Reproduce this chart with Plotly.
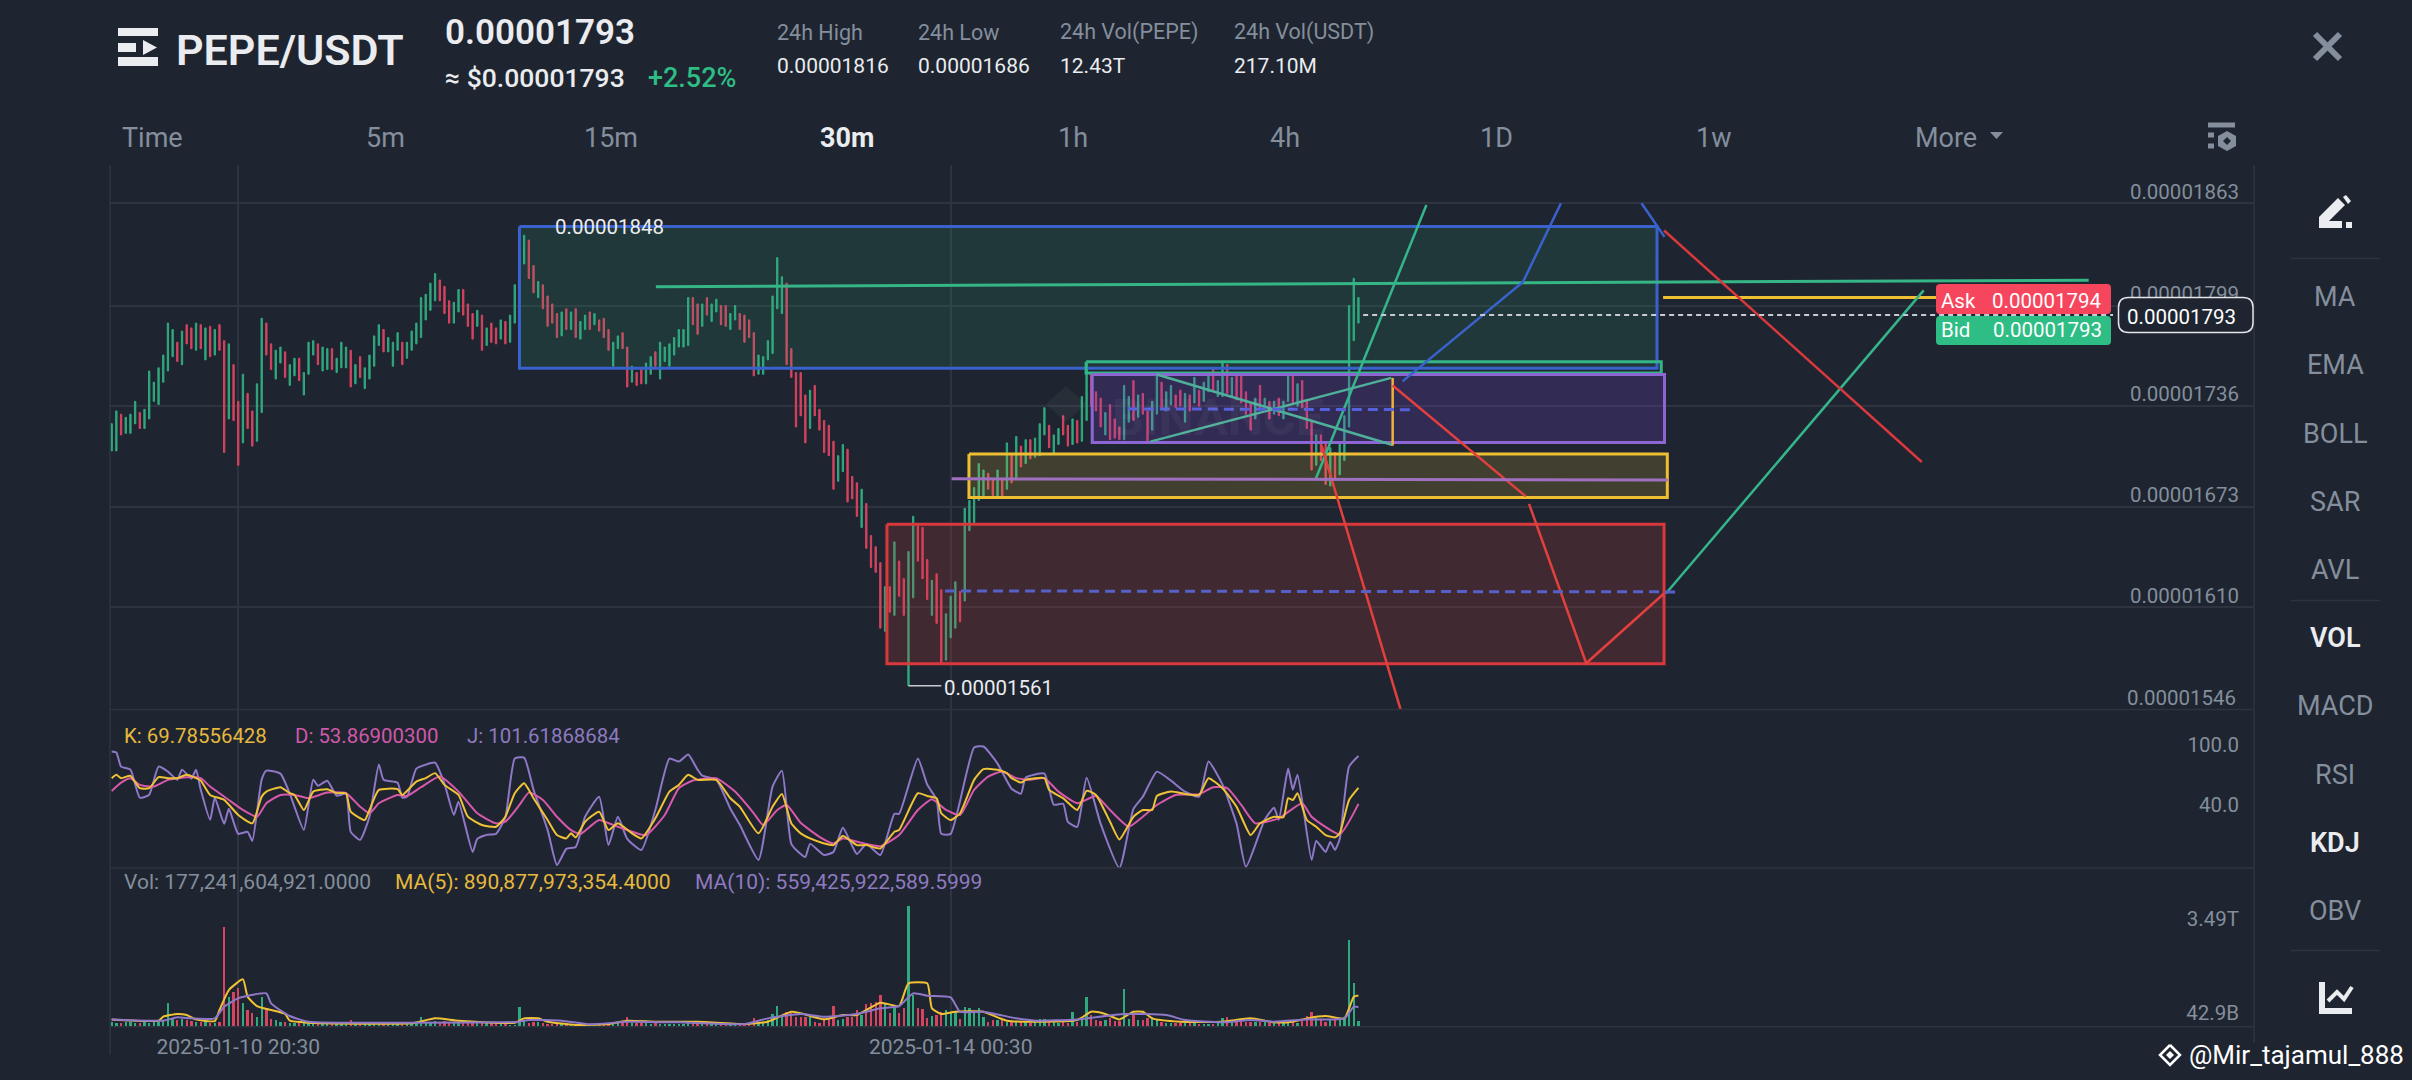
import plotly.graph_objects as go

W, H = 2412, 1080
BG = "#1e2530"
GRID = "#2d343f"
GRAY = "#848e9c"
WHITE = "#eaecef"
UP = "#31a97f"
DOWN = "#d64460"
FONT = "Roboto"

# prices are in units of 0.00000001
candle_high = [
    1725, 1733, 1731, 1729, 1731, 1739, 1732, 1734, 1758, 1751,
    1760, 1768, 1788, 1784, 1776, 1783, 1787, 1785, 1788, 1787,
    1785, 1786, 1784, 1787, 1777, 1775, 1762, 1739, 1756, 1744,
    1733, 1750, 1791, 1788, 1775, 1771, 1773, 1770, 1762, 1766,
    1766, 1757, 1776, 1777, 1775, 1773, 1772, 1772, 1766, 1776,
    1773, 1771, 1762, 1767, 1760, 1768, 1780, 1787, 1784, 1779,
    1776, 1782, 1776, 1776, 1783, 1788, 1804, 1806, 1813, 1819,
    1815, 1811, 1802, 1801, 1809, 1809, 1800, 1794, 1796, 1793,
    1785, 1788, 1785, 1790, 1789, 1793, 1812, 1830, 1843, 1840,
    1824, 1814, 1812, 1805, 1800, 1794, 1795, 1797, 1795, 1797,
    1789, 1793, 1795, 1794, 1790, 1791, 1784, 1776, 1780, 1782,
    1773, 1761, 1757, 1759, 1763, 1767, 1770, 1776, 1773, 1775,
    1779, 1784, 1784, 1804, 1804, 1800, 1800, 1804, 1800, 1803,
    1799, 1799, 1794, 1799, 1794, 1793, 1790, 1782, 1768, 1767,
    1777, 1805, 1829, 1817, 1813, 1772, 1757, 1757, 1743, 1746,
    1749, 1734, 1727, 1724, 1714, 1705, 1712, 1709, 1692, 1688,
    1684, 1675, 1655, 1648, 1638, 1623, 1623, 1651, 1639, 1628,
    1645, 1667, 1661, 1660, 1640, 1627, 1631, 1621, 1606, 1617,
    1626, 1620, 1672, 1677, 1685, 1700, 1696, 1694, 1690, 1696,
    1690, 1713, 1706, 1717, 1711, 1715, 1715, 1716, 1725, 1735,
    1724, 1718, 1722, 1730, 1724, 1728, 1727, 1742, 1763, 1757,
    1745, 1741, 1732, 1737, 1728, 1723, 1749, 1742, 1752, 1743,
    1744, 1733, 1739, 1755, 1751, 1745, 1749, 1743, 1746, 1744,
    1743, 1754, 1746, 1751, 1757, 1759, 1752, 1763, 1762, 1754,
    1755, 1755, 1745, 1738, 1741, 1749, 1741, 1739, 1739, 1741,
    1739, 1755, 1755, 1750, 1752, 1740, 1727, 1718, 1718, 1713,
    1710, 1707, 1713, 1730, 1799, 1816, 1804,
]
candle_low = [
    1708, 1708, 1718, 1719, 1719, 1725, 1722, 1722, 1728, 1739,
    1737, 1751, 1758, 1767, 1764, 1762, 1775, 1772, 1771, 1772,
    1765, 1767, 1768, 1771, 1707, 1728, 1727, 1699, 1713, 1722,
    1711, 1714, 1732, 1768, 1759, 1753, 1763, 1754, 1749, 1755,
    1752, 1743, 1756, 1768, 1762, 1758, 1759, 1759, 1757, 1760,
    1760, 1748, 1750, 1754, 1747, 1753, 1761, 1774, 1770, 1770,
    1761, 1771, 1762, 1766, 1771, 1775, 1779, 1790, 1796, 1802,
    1802, 1794, 1788, 1788, 1795, 1793, 1786, 1778, 1786, 1771,
    1774, 1776, 1775, 1778, 1775, 1776, 1788, 1807, 1825, 1816,
    1807, 1804, 1797, 1786, 1788, 1779, 1780, 1784, 1784, 1779,
    1778, 1784, 1784, 1787, 1783, 1779, 1771, 1761, 1772, 1772,
    1748, 1751, 1749, 1750, 1750, 1756, 1761, 1753, 1764, 1761,
    1768, 1773, 1773, 1774, 1787, 1781, 1786, 1793, 1789, 1795,
    1787, 1786, 1784, 1790, 1784, 1776, 1779, 1755, 1756, 1756,
    1765, 1769, 1797, 1794, 1762, 1754, 1723, 1730, 1713, 1722,
    1730, 1721, 1707, 1705, 1684, 1689, 1695, 1676, 1678, 1667,
    1660, 1647, 1635, 1632, 1597, 1595, 1607, 1605, 1617, 1605,
    1561, 1616, 1639, 1628, 1615, 1605, 1600, 1575, 1577, 1591,
    1597, 1601, 1614, 1658, 1663, 1677, 1679, 1684, 1680, 1679,
    1679, 1684, 1688, 1691, 1698, 1700, 1703, 1704, 1705, 1718,
    1710, 1706, 1712, 1718, 1711, 1712, 1713, 1714, 1727, 1736,
    1733, 1723, 1718, 1715, 1716, 1715, 1715, 1726, 1727, 1729,
    1731, 1714, 1721, 1731, 1734, 1733, 1737, 1735, 1736, 1726,
    1733, 1738, 1736, 1739, 1745, 1746, 1742, 1742, 1744, 1742,
    1740, 1738, 1731, 1721, 1728, 1734, 1734, 1728, 1731, 1730,
    1728, 1739, 1738, 1736, 1735, 1722, 1696, 1699, 1702, 1687,
    1686, 1690, 1693, 1702, 1723, 1777, 1788,
]
candle_side = (
    "GGRGGGRGGG" "GGGGRGRRGR" "GRGRRGRRGR" "RGGRRGGRGG" "RGGGRGGRGG"
    "GRGRGGGGRG" "GGRGGGGGGG" "RRRGGRRRGR" "GRRGRGGGGR" "RGRRRRGRGR"
    "GGRGRRRGGR" "RGRRGGRGGG" "GGGGRRGRGG" "RRGGRRRRGG" "GGGGRRRRRG"
    "RRRRRGGRRR" "GRRRRGRGRR" "GGRRRGRRGG" "GRGGGGGRRG" "RGRGRGRGGG"
    "RGGRRGRGGR" "RRGRRRGGRG" "RRGGRGGRRG" "RGRGGRGGRG" "RRRRGRGRGR"
    "GGRGRRRGRR" "GRGGGGG"
)

# volume in billions
volume = [
    130, 120, 110, 125, 130, 120, 110, 125, 120, 130,
    140, 170, 666, 250, 200, 230, 180, 150, 130, 130,
    140, 120, 120, 130, 2837, 857, 1000, 1095, 666, 476,
    400, 285, 857, 523, 210, 190, 143, 130, 120, 115,
    130, 110, 100, 100, 95, 100, 90, 100, 90, 95,
    80, 190, 90, 100, 80, 95, 100, 90, 85, 80,
    90, 85, 95, 75, 90, 120, 266, 120, 130, 150,
    140, 150, 130, 110, 130, 120, 130, 110, 110, 130,
    100, 110, 100, 90, 80, 60, 60, 571, 190, 120,
    130, 130, 120, 90, 90, 100, 110, 90, 80, 90,
    60, 60, 50, 50, 50, 50, 60, 70, 100, 100,
    266, 120, 110, 100, 110, 90, 100, 80, 80, 70,
    80, 70, 70, 110, 110, 100, 90, 100, 90, 90,
    70, 70, 60, 60, 70, 70, 80, 238, 120, 130,
    200, 362, 590, 285, 428, 380, 285, 285, 285, 285,
    143, 115, 238, 238, 590, 190, 210, 266, 266, 476,
    333, 647, 666, 714, 904, 685, 380, 542, 380, 523,
    3456, 904, 523, 495, 238, 305, 333, 428, 476, 380,
    428, 220, 552, 523, 428, 523, 285, 143, 190, 190,
    190, 143, 150, 140, 130, 140, 120, 200, 230, 230,
    130, 130, 120, 130, 120, 409, 140, 220, 838, 333,
    190, 170, 190, 240, 150, 170, 1066, 220, 333, 190,
    190, 238, 285, 190, 140, 120, 110, 110, 110, 110,
    100, 100, 90, 90, 80, 80, 100, 238, 285, 150,
    130, 130, 130, 130, 130, 130, 140, 120, 100, 110,
    100, 120, 130, 110, 150, 305, 428, 240, 190, 130,
    190, 190, 190, 285, 2475, 1257, 177,
]

ma5_idx = [0, 10, 11, 14, 16, 18, 22, 23, 25, 28, 29, 31, 34, 37, 38, 42, 64, 69, 74, 86, 88, 91, 93, 99, 106, 110,
           116, 125, 135, 140, 145, 147, 152, 156, 159, 164, 168, 170, 174, 175, 177, 180, 186, 191, 206, 209, 212,
           215, 218, 220, 222, 228, 237, 243, 248, 252, 255, 259, 263, 265, 266]
ma5_vals = [209, 171, 286, 362, 333, 209, 162, 476, 1047, 1352, 857, 590, 476, 362, 171, 114, 95, 238, 171, 114, 238,
            238, 143, 48, 76, 171, 143, 143, 76, 143, 428, 381, 209, 333, 333, 685, 590, 1238, 1238, 524, 362, 428,
            428, 171, 190, 428, 362, 209, 428, 428, 238, 143, 143, 238, 124, 143, 238, 305, 238, 857, 891]
ma10_idx = [0, 11, 14, 17, 22, 24, 27, 33, 34, 38, 42, 64, 87, 89, 96, 102, 110, 121, 135, 140, 147, 152, 159, 164,
            168, 171, 174, 179, 181, 186, 193, 197, 206, 216, 225, 229, 237, 243, 248, 255, 263, 265, 266]
ma10_vals = [209, 171, 267, 238, 238, 571, 809, 952, 666, 305, 143, 114, 143, 190, 171, 67, 143, 124, 76, 238, 362,
             286, 362, 524, 590, 952, 885, 838, 428, 428, 238, 171, 209, 362, 333, 190, 124, 190, 143, 209, 238,
             571, 559]

j_idx = [0, 1, 2, 4, 6, 8, 10, 12, 14, 15, 17, 18, 19, 21, 22, 24, 25, 27, 29, 30, 32, 33, 36, 38, 39, 41, 43, 44,
         46, 48, 50, 51, 53, 55, 57, 58, 61, 62, 63, 65, 67, 69, 71, 73, 74, 77, 78, 80, 82, 84, 86, 88, 90, 93, 95,
         97, 99, 101, 104, 106, 108, 110, 113, 116, 119, 121, 123, 125, 126, 129, 132, 134, 138, 141, 143, 145, 147,
         148, 149, 152, 154, 156, 159, 161, 164, 167, 168, 172, 174, 176, 177, 179, 184, 186, 189, 192, 194, 195,
         199, 201, 203, 204, 206, 208, 211, 215, 218, 220, 223, 226, 229, 232, 234, 237, 240, 242, 246, 248, 249,
         251, 252, 253, 256, 257, 259, 260, 261, 262, 264, 266]
j_vals = [106, 105, 91, 88, 60, 63, 91, 86, 78, 88, 79, 88, 68, 38, 60, 34, 49, 24, 26, 17, 78, 87, 84, 64, 51, 28,
          78, 72, 77, 62, 64, 26, 18, 41, 93, 78, 75, 60, 61, 89, 93, 95, 74, 43, 56, 6, 19, 23, 24, 41, 99, 100, 68,
          28, -7, 9, 11, 41, 61, 13, 41, 19, 8, 48, 99, 96, 103, 88, 82, 78, 49, 33, -2, 71, 87, 14, 4, 1, 14, 3, 6,
          30, 4, 14, 3, 44, 44, 99, 73, 58, 24, 24, 110, 111, 94, 69, 64, 80, 84, 53, 54, 36, 31, 80, 34, -10, 49, 61,
          86, 77, 66, 61, 96, 73, 34, -9, 38, 50, 38, 89, 68, 83, -2, 17, 6, 16, 8, 19, 91, 101.6]

k_idx = [0, 1, 2, 4, 6, 8, 10, 12, 14, 16, 18, 19, 21, 24, 27, 30, 32, 33, 36, 38, 39, 41, 43, 46, 48, 50, 51, 54,
         55, 57, 61, 62, 65, 67, 69, 71, 74, 76, 79, 82, 84, 86, 88, 90, 93, 95, 97, 98, 99, 101, 104, 106, 108, 111,
         113, 116, 119, 121, 123, 125, 129, 132, 134, 138, 141, 143, 145, 147, 149, 152, 154, 156, 159, 161, 164,
         167, 168, 172, 174, 176, 177, 179, 181, 184, 186, 189, 191, 192, 194, 195, 199, 200, 203, 206, 208, 210,
         213, 215, 218, 220, 222, 223, 226, 229, 232, 234, 237, 240, 243, 245, 248, 250, 251, 252, 253, 255, 257,
         259, 261, 262, 264, 266]
k_vals = [79.5, 82.8, 79.5, 81.8, 69.5, 69.5, 80.5, 79.5, 79.5, 82.8, 79.5, 77.1, 62.8, 57.8, 42.8, 34.5, 61.1, 66.1,
          70.5, 64.5, 62.8, 47.8, 66.1, 68.5, 64.5, 64.5, 46.1, 37.8, 47.8, 67.8, 68.5, 62.8, 76.1, 79.5, 84.5, 72.8,
          62.8, 41.1, 32.8, 31.1, 41.1, 64.5, 74.5, 59.5, 37.8, 22.8, 19.5, 24.5, 20.5, 36.1, 46.1, 27.8, 34.5, 24.5,
          19.5, 39.5, 66.1, 72.8, 82.8, 77.8, 77.8, 59.5, 51.1, 24.5, 51.1, 63.8, 34.5, 24.5, 19.5, 14.5, 12.8, 21.8,
          12.8, 12.8, 9.5, 26.1, 27.8, 64.5, 61.8, 59.5, 44.5, 37.8, 44.5, 77.8, 88.5, 87.8, 84.5, 79.5, 75.1, 77.8,
          79.5, 67.8, 59.5, 47.8, 66.8, 62.8, 36.1, 18.5, 41.1, 47.8, 47.8, 61.8, 66.1, 63.8, 62.8, 79.5, 69.5, 51.1,
          22.8, 34.5, 41.1, 40.5, 59.5, 57.8, 64.5, 37.8, 31.1, 22.8, 20.5, 24.5, 57.8, 69.8]

d_idx = [0, 2, 4, 6, 9, 12, 16, 19, 21, 25, 28, 31, 33, 36, 39, 42, 46, 50, 53, 55, 57, 61, 63, 66, 70, 74, 78, 82,
         84, 87, 89, 92, 95, 98, 100, 102, 104, 107, 110, 114, 118, 121, 124, 129, 133, 137, 139, 142, 144, 147, 151,
         154, 156, 160, 164, 168, 172, 175, 178, 181, 184, 187, 190, 193, 196, 199, 202, 206, 210, 213, 217, 220,
         223, 227, 232, 235, 238, 241, 244, 249, 254, 256, 262, 266]
d_vals = [66.8, 75.1, 79.5, 72.8, 71.1, 77.8, 80.5, 79.5, 71.1, 57.8, 47.8, 41.1, 54.5, 62.8, 62.8, 59.5, 65.1, 64.5,
          51.1, 44.5, 54.5, 62.8, 61.8, 70.5, 81.1, 66.1, 44.5, 34.5, 36.1, 52.8, 65.1, 57.8, 41.1, 27.8, 23.8, 31.1,
          37.8, 32.8, 27.8, 22.8, 42.8, 69.5, 77.1, 79.5, 66.1, 44.5, 32.8, 47.8, 52.8, 35.1, 21.1, 14.5, 19.5, 15.1,
          11.8, 22.8, 47.8, 58.5, 47.8, 42.8, 67.8, 81.1, 86.1, 79.5, 77.8, 79.5, 66.1, 54.5, 61.8, 47.8, 31.1, 41.1,
          52.8, 62.8, 63.5, 70.5, 69.5, 52.8, 34.5, 39.5, 54.5, 41.1, 23.8, 53.87]

price_ticks = [1863, 1799, 1736, 1673, 1610]
date_tick_idx = [27, 179]
date_tick_text = ["2025-01-10 20:30", "2025-01-14 00:30"]
kdj_ticks = [100, 40]
kdj_tick_text = ["100.0", "40.0"]
vol_ticks = [2734, 42.9]
vol_tick_text = ["3.49T", "42.9B"]

# drawn zones: first candle index, last candle index, top price, bottom price
zone_x0 = [87, 207.9, 209.2, 182.9, 165.4]
zone_x1 = [329.7, 330.6, 331.3, 331.9, 331.2]
zone_top = [1848.5, 1763.8, 1755.8, 1706, 1662]
zone_bottom = [1759.7, 1756.8, 1713.3, 1678.8, 1574.7]
zone_line = ["#3a62cc", "#34b588", "#8d66d4", "#eebf32", "#d9383c"]
zone_fill = ["rgba(46,189,133,0.13)", "rgba(0,0,0,0)", "rgba(130,70,225,0.20)", "rgba(225,190,50,0.18)",
             "rgba(225,60,60,0.18)"]

# drawn lines: candle indexes and prices of the anchors
drawings = [
    ([116.1, 421.8], [1810.8, 1814.9], "#36b587", 3, "solid"),
    ([331, 391], [1804, 1804], "#eebf32", 3, "solid"),
    ([331.6, 386.6], [1618.7, 1808.5], "#35b58a", 2.5, "solid"),
    ([331.2, 386.2], [1846, 1701], "#d9383c", 2.5, "solid"),
    ([275.4, 301.1, 309.2], [1751.5, 1813.8, 1863], "#3a62cc", 2.5, "solid"),
    ([326.4, 331.3], [1863, 1842], "#3a62cc", 2.5, "solid"),
    ([256.9, 280.5], [1690.5, 1862], "#35b58a", 2.5, "solid"),
    ([223, 273.3], [1755.8, 1711.7], "#4fb09a", 2.5, "solid"),
    ([221.6, 273], [1713.8, 1753.7], "#4fb09a", 2.5, "solid"),
    ([273.3, 273.3], [1753.7, 1711.3], "#f0b13c", 2.5, "solid"),
    ([273.3, 301.7], [1748.9, 1679.5], "#e2403f", 2.5, "solid"),
    ([302.4, 314.6, 331.2], [1674.8, 1575, 1618.7], "#e2403f", 2.5, "solid"),
    ([258.1, 275], [1711.7, 1546], "#e2403f", 2.5, "solid"),
    ([179.2, 332], [1690.5, 1689.8], "#a070c0", 3, "solid"),
    ([216.8, 277.5], [1734.3, 1733.8], "#5560dc", 3, "10px,6px"),
    ([177.8, 334.6], [1620.3, 1619.7], "#5560c8", 3, "10px,6px"),
    ([170, 177], [1561, 1561], "#c8ccd2", 1.5, "solid"),
    ([267, 427], [1793, 1793], "#c8ccd2", 2, "5px,4px"),
]


def xp(px):
    return px / W


def yp(py):
    return 1 - py / H


def label(text, x, y, size, color=GRAY, anchor="left", weight=400):
    return dict(
        text=text, x=xp(x), y=yp(y), xref="paper", yref="paper", xanchor=anchor, yanchor="middle", showarrow=False,
        font=dict(family=FONT, size=size, color=color, weight=weight),
    )


def path(points, close=True):
    d = "M " + " L ".join(f"{xp(x)} {yp(y)}" for x, y in points)
    return d + (" Z" if close else "")


def filled(points, color):
    return dict(type="path", xref="paper", yref="paper", path=path(points), fillcolor=color, line_width=0)


def stroke(points, color, width):
    return dict(type="path", xref="paper", yref="paper", path=path(points, close=False), line=dict(color=color, width=width))


def hline(y, x0, x1, color=GRID, width=1.5):
    return stroke([(x0, y), (x1, y)], color, width)


def rounded(x0, y0, x1, y1, r, line, fill):
    d = (
        f"M {xp(x0 + r)} {yp(y0)} L {xp(x1 - r)} {yp(y0)} Q {xp(x1)} {yp(y0)} {xp(x1)} {yp(y0 + r)} "
        f"L {xp(x1)} {yp(y1 - r)} Q {xp(x1)} {yp(y1)} {xp(x1 - r)} {yp(y1)} "
        f"L {xp(x0 + r)} {yp(y1)} Q {xp(x0)} {yp(y1)} {xp(x0)} {yp(y1 - r)} "
        f"L {xp(x0)} {yp(y0 + r)} Q {xp(x0)} {yp(y0)} {xp(x0 + r)} {yp(y0)} Z"
    )
    return dict(type="path", xref="paper", yref="paper", path=d, fillcolor=fill, line=dict(color=line, width=1.5 if line != fill else 0))


def smooth_line(color):
    return dict(color=color, width=2, shape="spline", smoothing=0.5)


x_idx = list(range(len(candle_high)))
opens = [low if side == "G" else high for low, high, side in zip(candle_low, candle_high, candle_side)]
closes = [high if side == "G" else low for low, high, side in zip(candle_low, candle_high, candle_side)]

fig = go.Figure()

fig.add_trace(go.Candlestick(
    x=x_idx, open=opens, high=candle_high, low=candle_low, close=closes,
    increasing=dict(line=dict(color=UP, width=1), fillcolor=UP),
    decreasing=dict(line=dict(color=DOWN, width=1), fillcolor=DOWN),
    yaxis="y", showlegend=False,
))

# зоны рисуются поверх свечей, поэтому свечи внутри них приглушены
for x0, x1, top, bottom, line_color, fill_color in zip(zone_x0, zone_x1, zone_top, zone_bottom, zone_line, zone_fill):
    fig.add_trace(go.Scatter(
        x=[x0, x1, x1, x0, x0], y=[top, top, bottom, bottom, top], mode="lines", fill="toself", fillcolor=fill_color,
        line=dict(color=line_color, width=3), hoverinfo="skip", showlegend=False, yaxis="y",
    ))

for xs, ys, color, width, dash in drawings:
    fig.add_trace(go.Scatter(
        x=xs, y=ys, mode="lines", line=dict(color=color, width=width, dash=dash), hoverinfo="skip", showlegend=False,
        yaxis="y",
    ))

# KDJ
fig.add_trace(go.Scatter(x=j_idx, y=j_vals, mode="lines", line=smooth_line("#8f78c8"), yaxis="y2", showlegend=False))
fig.add_trace(go.Scatter(x=d_idx, y=d_vals, mode="lines", line=smooth_line("#d858ac"), yaxis="y2", showlegend=False))
fig.add_trace(go.Scatter(x=k_idx, y=k_vals, mode="lines", line=smooth_line("#f0c237"), yaxis="y2", showlegend=False))

# объём
fig.add_trace(go.Bar(
    x=x_idx, y=volume, width=0.5, marker=dict(color=[UP if s == "G" else DOWN for s in candle_side], line_width=0),
    yaxis="y3", showlegend=False,
))
fig.add_trace(go.Scatter(x=ma5_idx, y=ma5_vals, mode="lines", line=smooth_line("#f0c237"), yaxis="y3", showlegend=False))
fig.add_trace(go.Scatter(x=ma10_idx, y=ma10_vals, mode="lines", line=smooth_line("#8f78c8"), yaxis="y3", showlegend=False))

annotations = [
    label("PEPE/USDT", 174, 50, 43, WHITE, weight=600),
    label("0.00001793", 443, 32, 35, WHITE, weight=600),
    label("≈ $0.00001793", 443, 78, 26.5, WHITE, weight=500),
    label("+2.52%", 646, 78, 27, "#2ebd85", weight=500),
    label("0.00001848", 553, 227, 20.5, WHITE),
    label("0.00001561", 942, 688, 20.5, WHITE),
    label("BINANCE", 1110, 418, 50, "rgba(255,255,255,0.045)", weight=700),
    label("Ask", 1939, 300.5, 20.5, "#ffffff"),
    label("0.00001794", 2104, 300.5, 20.5, "#ffffff", anchor="right"),
    label("Bid", 1939, 330.5, 20.5, "#ffffff"),
    label("0.00001793", 2104, 330.5, 20.5, "#ffffff", anchor="right"),
    label("0.00001793", 2238, 317, 20.5, "#ffffff", anchor="right"),
    label("0.00001546", 2238, 698, 20.5, GRAY, anchor="right"),
    label("K: 69.78556428", 122, 736, 20.4, "#e6b93c"),
    label("D: 53.86900300", 293, 736, 20.4, "#d058a8"),
    label("J: 101.61868684", 465, 736, 20.4, "#8f7ac0"),
    label("Vol: 177,241,604,921.0000", 122, 882, 21, GRAY),
    label("MA(5): 890,877,973,354.4000", 393, 882, 21, "#e6b93c"),
    label("MA(10): 559,425,922,589.5999", 693, 882, 21, "#8f7ac0"),
    label("@Mir_tajamul_888", 2406, 1055, 26, "#ffffff", anchor="right"),
]

stat_x = [775, 916, 1058, 1232]
stat_names = ["24h High", "24h Low", "24h Vol(PEPE)", "24h Vol(USDT)"]
stat_values = ["0.00001816", "0.00001686", "12.43T", "217.10M"]
for x, name, value in zip(stat_x, stat_names, stat_values):
    annotations.append(label(name, x, 32, 21.5, GRAY))
    annotations.append(label(value, x, 66, 21, WHITE))

tab_x = [120, 364, 582, 818, 1056, 1268, 1478, 1694, 1913]
tab_names = ["Time", "5m", "15m", "30m", "1h", "4h", "1D", "1w", "More"]
for x, name in zip(tab_x, tab_names):
    active = name == "30m"
    annotations.append(label(name, x, 138, 27, WHITE if active else GRAY, weight=700 if active else 400))

side_y = [296.5, 364.5, 433.5, 501.5, 569.5, 638, 705.5, 774.5, 842.5, 910.5]
side_names = ["MA", "EMA", "BOLL", "SAR", "AVL", "VOL", "MACD", "RSI", "KDJ", "OBV"]
for y, name in zip(side_y, side_names):
    active = name in ("VOL", "KDJ")
    annotations.append(label(name, 2335, y, 27, WHITE if active else GRAY, anchor="center", weight=600 if active else 400))

shapes = [
    # рамки панелей
    hline(709.6, 110, 2254),
    hline(868, 110, 2254),
    hline(1026.7, 110, 2254),
    stroke([(110, 165), (110, 1055)], GRID, 1.5),
    stroke([(2254, 165), (2254, 1043)], GRID, 1.5),
    # логотип
    filled([(118, 28), (158, 28), (158, 36), (118, 36)], WHITE),
    filled([(118, 43), (136, 43), (136, 52), (118, 52)], WHITE),
    filled([(143, 40), (157, 47.5), (143, 55)], WHITE),
    filled([(118, 57), (158, 57), (158, 66), (118, 66)], WHITE),
    # стрелка More
    filled([(1990, 132), (2003, 132), (1996.5, 139)], GRAY),
    # настройки
    stroke([(2208, 125), (2235, 125)], GRAY, 5),
    stroke([(2208, 135), (2214, 135)], GRAY, 5),
    stroke([(2208, 146), (2214, 146)], GRAY, 5),
    filled([(2227, 131), (2236, 136), (2236, 146), (2227, 151), (2218, 146), (2218, 136)], GRAY),
    filled([(2227, 137), (2231, 141), (2227, 145), (2223, 141)], BG),
    # крестик
    stroke([(2315, 34), (2340, 59)], GRAY, 6),
    stroke([(2340, 34), (2315, 59)], GRAY, 6),
    # разделители правой колонки
    hline(258.5, 2291, 2380),
    hline(600.5, 2291, 2380),
    hline(950.5, 2291, 2380),
    # карандаш
    filled([(2319, 228), (2319, 217), (2338, 198), (2345, 205), (2329, 221), (2342, 221), (2342, 228)], WHITE),
    filled([(2346, 222), (2352, 222), (2352, 228), (2346, 228)], WHITE),
    filled([(2343, 197), (2346, 195), (2351, 201), (2348, 204)], WHITE),
    # значок графика
    stroke([(2322, 982), (2322, 1011), (2352, 1011)], WHITE, 6),
    stroke([(2328, 1001), (2337, 992), (2344, 999), (2352, 987)], WHITE, 4),
    # метка водяного знака
    stroke([(2170, 1045), (2180, 1055), (2170, 1065), (2160, 1055), (2170, 1045)], "#ffffff", 2.5),
    filled([(2170, 1051), (2174, 1055), (2170, 1059), (2166, 1055)], "#ffffff"),
    filled([(1066, 386), (1086, 404), (1066, 422), (1046, 404)], "rgba(255,255,255,0.045)"),
    # Ask / Bid и текущая цена
    rounded(1936, 284, 2111, 314, 4, "#f6465d", "#f6465d"),
    rounded(1936, 316, 2111, 345, 4, "#2ebd85", "#2ebd85"),
    rounded(2118.5, 297.5, 2253, 332.5, 10, "#e4e6ea", BG),
]

fig.update_layout(
    width=W,
    height=H,
    autosize=False,
    margin=dict(l=0, r=0, t=0, b=0),
    paper_bgcolor=BG,
    plot_bgcolor=BG,
    showlegend=False,
    boxgap=0.6,
    bargap=0,
    barmode="overlay",
    xaxis=dict(
        domain=[110 / W, 2254 / W],
        range=[-0.36, 457.07],
        anchor="y3",
        rangeslider=dict(visible=False),
        tickmode="array",
        tickvals=date_tick_idx,
        ticktext=date_tick_text,
        tickfont=dict(family=FONT, size=21, color=GRAY),
        ticklabelstandoff=5,
        showgrid=True,
        gridcolor=GRID,
        gridwidth=1.5,
        zeroline=False,
        showline=False,
        ticks="",
    ),
    yaxis=dict(
        domain=[1 - 709.6 / H, 1 - 165 / H],
        range=[1546, 1887],
        anchor="x",
        side="right",
        ticklabelposition="inside",
        tickmode="array",
        tickvals=price_ticks,
        ticktext=[f"0.0000{p}" for p in price_ticks],
        tickfont=dict(family=FONT, size=20.5, color=GRAY),
        ticklabelshift=-12,
        ticklabelstandoff=12,
        showgrid=True,
        gridcolor=GRID,
        gridwidth=1.5,
        zeroline=False,
        ticks="",
    ),
    yaxis2=dict(
        domain=[1 - 868 / H, 1 - 709.6 / H],
        range=[-10, 147.8],
        anchor="x",
        side="right",
        ticklabelposition="inside",
        tickmode="array",
        tickvals=kdj_ticks,
        ticktext=kdj_tick_text,
        tickfont=dict(family=FONT, size=20.5, color=GRAY),
        ticklabelshift=-13,
        ticklabelstandoff=12,
        showgrid=False,
        zeroline=False,
        ticks="",
    ),
    yaxis3=dict(
        domain=[1 - 1026.7 / H, 1 - 868 / H],
        range=[0, 4530],
        anchor="x",
        side="right",
        ticklabelposition="inside",
        tickmode="array",
        tickvals=vol_ticks,
        ticktext=vol_tick_text,
        tickfont=dict(family=FONT, size=20.5, color=GRAY),
        ticklabelshift=-12,
        ticklabelstandoff=12,
        showgrid=False,
        zeroline=False,
        ticks="",
    ),
    annotations=annotations,
    shapes=shapes,
)

fig.write_html("out.html", config=dict(displayModeBar=False), post_script="document.body.style.margin='0';")
